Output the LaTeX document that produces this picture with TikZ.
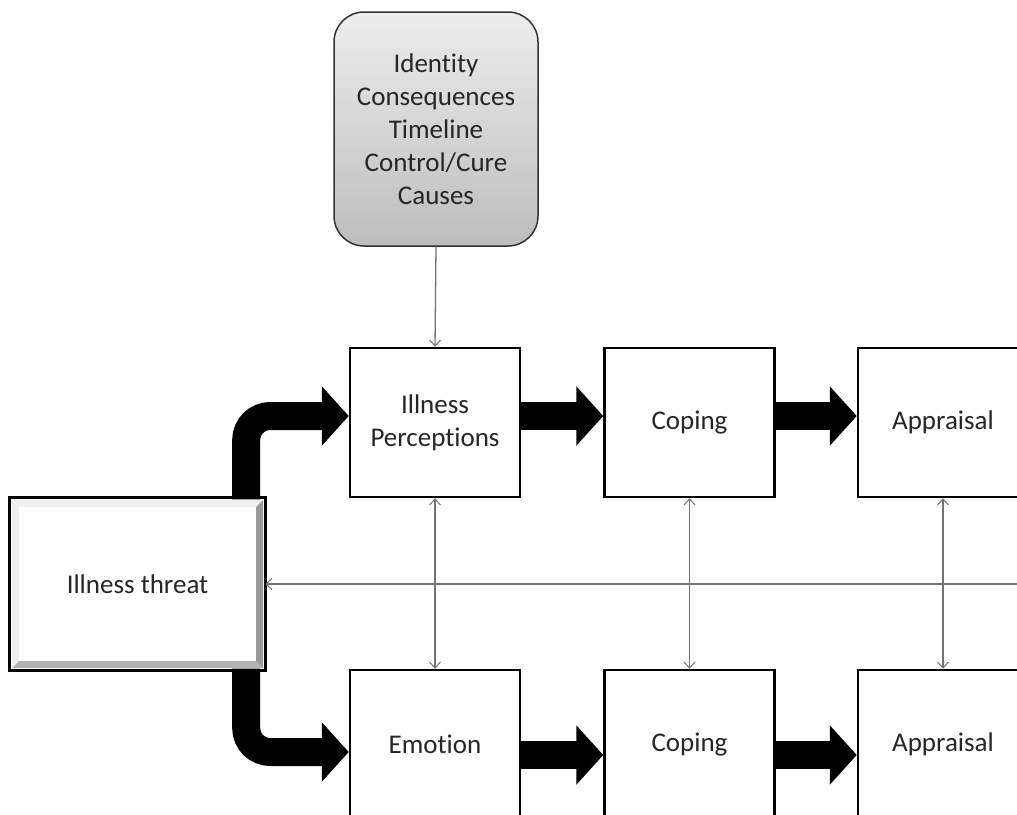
\documentclass[tikz,border=0pt]{standalone}
\usepackage{fontspec}
\setmainfont{Carlito}[Ligatures={NoCommon}]
\usetikzlibrary{arrows.meta,calc}
\tikzset{barb/.tip={Straight Barb[length=6pt,width=11pt,line width=1pt]}}
\begin{document}
\begin{tikzpicture}[x=1pt,y=-1pt,
  lbl/.style={font=\fontsize{27}{33}\selectfont, text=black!85, align=center},
  stagebox/.style={lbl, draw=black, line width=2.5pt, fill=white, minimum width=170pt, minimum height=149pt, inner sep=0pt},
  bigarrow/.style={line width=28pt, -{Triangle[length=27pt,width=58pt]}},
  thinlink/.style={draw=black!55, line width=1.3pt},
]
\useasboundingbox (0,0) rectangle (1017,814);
\clip (0,0) rectangle (1017,814);

% top rounded box
\node[lbl, draw=black!80, line width=1.5pt, rounded corners=30pt, top color=black!7, bottom color=black!26,
      minimum width=204pt, minimum height=234pt, inner sep=0pt] (dims) at (436,129)
  {Identity\\Consequences\\Timeline\\Control/Cure\\Causes};

% illness threat box with bevel
\node[lbl, fill=white, minimum width=255pt, minimum height=172pt, inner sep=0pt] (threat) at (137.5,584) {};
\fill[black!6] ($(threat.north west)+(2,2)$) -- ($(threat.north east)+(-2,2)$) -- ($(threat.north east)+(-9,9)$)
   -- ($(threat.south west)+(9,-9)$) -- ($(threat.south west)+(2,-2)$) -- cycle;
\fill[black!40] ($(threat.north east)+(-2,2)$) -- ($(threat.south east)+(-2,-2)$) -- ($(threat.south east)+(-9,-9)$) -- ($(threat.north east)+(-9,9)$) -- cycle;
\fill[black!30] ($(threat.south west)+(2,-2)$) -- ($(threat.south east)+(-2,-2)$) -- ($(threat.south east)+(-9,-9)$) -- ($(threat.south west)+(9,-9)$) -- cycle;
\fill[white] ($(threat.north west)+(9,9)$) rectangle ($(threat.south east)+(-9,-9)$);
\node[lbl] (threattext) at (threat.center) {Illness threat};
\draw[black, line width=3pt] (threat.north west) rectangle (threat.south east);

% stage boxes
\node[stagebox] (ip) at (435,422.5) {Illness\\Perceptions};
\node[stagebox] (c1) at (689.5,422.5) {Coping};
\node[stagebox] (a1) at (943,422.5) {Appraisal};
\node[stagebox] (em) at (435,744.5) {Emotion};
\node[stagebox] (c2) at (689.5,744.5) {Coping};
\node[stagebox] (a2) at (943,744.5) {Appraisal};

% big arrows
\draw[bigarrow, rounded corners=24pt] ($(threat.north east)+(-19,1.5)$) |- ([yshift=6.5pt]ip.west);
\draw[bigarrow, rounded corners=24pt] ($(threat.south east)+(-19,-1.5)$) |- ([yshift=-7.5pt]em.west);
\draw[bigarrow] ([yshift=6.5pt]ip.east) -- ([yshift=6.5pt]c1.west);
\draw[bigarrow] ([yshift=6.5pt]c1.east) -- ([yshift=6.5pt]a1.west);
\draw[bigarrow] ([yshift=-10.5pt]em.east) -- ([yshift=-10.5pt]c2.west);
\draw[bigarrow] ([yshift=-10.5pt]c2.east) -- ([yshift=-10.5pt]a2.west);

% thin links
\draw[thinlink, -{barb}] (dims.south) -- (ip.north);
\draw[thinlink, {barb}-{barb}] (ip.south) -- (em.north);
\draw[thinlink, {barb}-{barb}] (c1.south) -- (c2.north);
\draw[thinlink, {barb}-{barb}] (a1.south) -- (a2.north);
\coordinate (rim) at (1017,0);
\draw[thinlink, -{barb}] (rim |- threat.east) -- (threat.east);
\end{tikzpicture}
\end{document}
